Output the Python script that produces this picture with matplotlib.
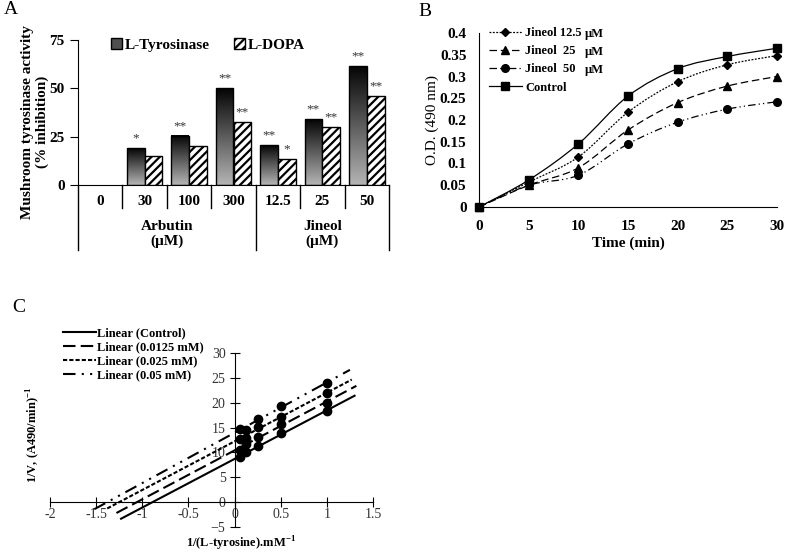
import numpy as np
import matplotlib
matplotlib.use('Agg')
import matplotlib.pyplot as plt
from matplotlib.path import Path
from matplotlib.patches import PathPatch, Patch, Rectangle
from matplotlib.lines import Line2D
from matplotlib.colors import LinearSegmentedColormap

plt.rcParams['font.family'] = ['Liberation Serif', 'DejaVu Serif']
plt.rcParams['mathtext.fontset'] = 'custom'
plt.rcParams['mathtext.rm'] = 'Liberation Serif'
plt.rcParams['mathtext.bf'] = 'Liberation Serif:bold'
plt.rcParams['hatch.linewidth'] = 1.6

W, H = 787, 552

# panel A - inhibition (%)
doses = ['0', '30', '100', '300', '12.5', '25', '50']
groups = ['Arbutin\n(\u00b5M)', 'Jineol\n(\u00b5M)']
group_size = [4, 3]
tyrosinase = [0, 19, 25.5, 50, 20.5, 34, 61.5]
dopa = [0, 15, 20, 32.5, 13.5, 30, 46]
stars_tyr = ['', '*', '**', '**', '**', '**', '**']
stars_dopa = ['', '', '', '**', '*', '**', '**']

# panel B - O.D. over time
time_min = [0, 5, 10, 15, 20, 25, 30]
od_j125 = [0, 0.057, 0.115, 0.218, 0.288, 0.327, 0.348]
od_j25 = [0, 0.050, 0.090, 0.177, 0.240, 0.278, 0.300]
od_j50 = [0, 0.050, 0.073, 0.145, 0.195, 0.225, 0.242]
od_control = [0, 0.062, 0.145, 0.255, 0.318, 0.346, 0.365]

# panel C - Lineweaver-Burk
inv_s = [0.0625, 0.125, 0.25, 0.5, 1.0]
inv_v_control = [9.0, 10.0, 11.2, 13.9, 18.3]
inv_v_0125 = [10.5, 11.7, 13.2, 15.7, 20.0]
inv_v_025 = [12.8, 13.0, 15.2, 17.2, 21.9]
inv_v_05 = [14.8, 14.6, 16.7, 19.4, 23.9]
trend_from = [-1.23, -1.28, -1.38, -1.52]
trend_to = [1.30, 1.32, 1.27, 1.25]


def fig_rect(left, top, right, bottom):
    # pixel box -> figure fraction
    return [left / W, 1 - bottom / H, (right - left) / W, (bottom - top) / H]


def smooth_path(x, y):
    pts = np.column_stack([x, y]).astype(float)
    n = len(pts)
    verts = [pts[0]]
    codes = [Path.MOVETO]
    for i in range(n - 1):
        p0 = pts[max(i - 1, 0)]
        p1 = pts[i]
        p2 = pts[i + 1]
        p3 = pts[min(i + 2, n - 1)]
        verts += [p1 + (p2 - p0) / 6, p2 - (p3 - p1) / 6, p2]
        codes += [Path.CURVE4] * 3
    return Path(verts, codes)


fig = plt.figure(figsize=(W / 100, H / 100), dpi=100)

# ---------------- A ----------------
ax = fig.add_axes(fig_rect(78, 40, 389, 185))
grey = LinearSegmentedColormap.from_list('bar', ['#050505', '#b4b4b4'])
grad = np.linspace(0, 1, 100).reshape(-1, 1)
bw = 0.4
for i in range(len(doses)):
    h = tyrosinase[i]
    if h > 0:
        ax.imshow(grad, extent=[i - bw, i, 0, h], cmap=grey, aspect='auto',
                  vmin=0, vmax=1, zorder=2)
        ax.add_patch(Rectangle((i - bw, 0), bw, h, fill=False,
                               edgecolor='black', lw=1, zorder=3))
    d = dopa[i]
    if d > 0:
        ax.add_patch(Rectangle((i, 0), bw, d, facecolor='white', hatch='////',
                               edgecolor='black', lw=1, zorder=3))
    if stars_tyr[i]:
        ax.text(i - bw / 2, h + 2, stars_tyr[i], ha='center', va='bottom',
                fontsize=9.5, color='#333333')
    if stars_dopa[i]:
        ax.text(i + bw / 2, d + 2, stars_dopa[i], ha='center', va='bottom',
                fontsize=9.5, color='#333333')

ax.set_xlim(-0.5, len(doses) - 0.5)
ax.set_ylim(0, 75)
ax.set_yticks([0, 25, 50, 75])
ax.set_xticks([])
ax.tick_params(axis='y', direction='out', length=6, labelsize=11)
for lab in ax.get_yticklabels():
    lab.set_fontweight('bold')
ax.spines['top'].set_visible(False)
ax.spines['right'].set_visible(False)

tr = ax.get_xaxis_transform()
edges = [-0.5]
for g in group_size:
    edges.append(edges[-1] + g)
for k in range(len(doses) + 1):
    xb = k - 0.5
    y_end = -0.448 if xb in edges else -0.159
    ax.add_line(Line2D([xb, xb], [0, y_end], transform=tr, color='black',
                       lw=1, clip_on=False))
for i, lab in enumerate(doses):
    ax.text(i, -0.117, lab, transform=tr, ha='center', va='center',
            fontsize=11, fontweight='bold')
for g, lab in enumerate(groups):
    ax.text((edges[g] + edges[g + 1]) / 2, -0.338, lab, transform=tr,
            ha='center', va='center', fontsize=11, fontweight='bold',
            linespacing=1.15)

fig.text(35 / W, 1 - 122 / H, 'Mushroom tyrosinase activity\n(% inhibition)',
         rotation=90, ha='center', va='center', fontsize=11,
         fontweight='bold', multialignment='center')
fig.legend(handles=[Patch(facecolor='#505050', edgecolor='black'),
                    Patch(facecolor='white', edgecolor='black', hatch='////')],
           labels=['L-Tyrosinase', 'L-DOPA'], ncol=2, frameon=False,
           loc='center left', bbox_to_anchor=(111 / W, 1 - 45 / H),
           borderaxespad=0, borderpad=0, handlelength=0.7, handleheight=0.7,
           handletextpad=0.2, columnspacing=1.6,
           prop={'size': 11, 'weight': 'bold'})
fig.text(4 / W, 1 - 9 / H, 'A', fontsize=14, va='center')

# ---------------- B ----------------
bx = fig.add_axes(fig_rect(479, 33, 777, 207))
series_b = [
    (od_j125, (0, (1.5, 1.2)), 'D', 4.5),
    (od_j25, (0, (6, 3)), '^', 5.5),
    (od_j50, (0, (6, 2.5, 1, 2.5, 1, 2.5)), 'o', 5.5),
    (od_control, '-', 's', 5.5),
]
handles_b = []
for yv, ls, mk, ms in series_b:
    bx.add_patch(PathPatch(smooth_path(time_min, yv), fill=False,
                           edgecolor='black', lw=0.9, linestyle=ls))
    bx.plot(time_min, yv, linestyle='none', marker=mk, markersize=ms,
            color='black', clip_on=False, zorder=4)
    handles_b.append(Line2D([], [], color='black', lw=0.9, linestyle=ls,
                            marker=mk, markersize=ms))
bx.set_xlim(0, 30)
bx.set_ylim(0, 0.4)
bx.set_xticks(time_min)
bx.set_yticks([0, 0.05, 0.1, 0.15, 0.2, 0.25, 0.3, 0.35, 0.4])
bx.set_yticklabels(['0', '0.05', '0.1', '0.15', '0.2', '0.25', '0.3',
                    '0.35', '0.4'])
bx.tick_params(length=0, labelsize=11, pad=9)
for lab in bx.get_xticklabels() + bx.get_yticklabels():
    lab.set_fontweight('bold')
bx.spines['top'].set_visible(False)
bx.spines['right'].set_visible(False)
bx.set_xlabel('Time (min)', fontsize=11, fontweight='bold', labelpad=3)
fig.text(432 / W, 1 - 120 / H, 'O.D. (490 nm)', rotation=90, ha='center',
         va='center', fontsize=11)
fig.legend(handles=handles_b,
           labels=['Jineol 12.5', 'Jineol  25', 'Jineol  50', 'Control'],
           frameon=False, loc='upper left',
           bbox_to_anchor=(489 / W, 1 - 27 / H), borderaxespad=0,
           borderpad=0, handlelength=2.6, handletextpad=0.3,
           labelspacing=0.5, prop={'size': 9, 'weight': 'bold'})
for yy in [34, 52, 70]:
    fig.text(585 / W, 1 - yy / H, '\u00b5M', fontsize=9, fontweight='bold',
             va='center')
fig.text(418 / W, 1 - 12 / H, 'B', fontsize=14, va='center')

# ---------------- C ----------------
cx = fig.add_axes(fig_rect(50, 353, 373, 527))
series_c = [inv_v_control, inv_v_0125, inv_v_025, inv_v_05]
styles_c = ['-', (0, (6, 2.5)), (0, (2, 1)), (0, (6, 3, 1, 3, 1, 3))]
labels_c = ['Linear (Control)', 'Linear (0.0125 mM)', 'Linear (0.025 mM)',
            'Linear (0.05 mM)']
handles_c = []
for k, yv in enumerate(series_c):
    slope, icpt = np.polyfit(inv_s, yv, 1)
    xs = np.array([trend_from[k], trend_to[k]])
    cx.plot(xs, slope * xs + icpt, color='black', lw=1.5,
            linestyle=styles_c[k], clip_on=False)
    cx.plot(inv_s, yv, 'o', color='black', markersize=6)
    handles_c.append(Line2D([], [], color='black', lw=1.5,
                            linestyle=styles_c[k]))
cx.set_xlim(-2, 1.5)
cx.set_ylim(-5, 30)
cx.set_xticks([-2, -1.5, -1, -0.5, 0, 0.5, 1, 1.5])
cx.set_xticklabels(['-2', '-1.5', '-1', '-0.5', '0', '0.5', '1', '1.5'])
cx.set_yticks([-5, 0, 5, 10, 15, 20, 25, 30])
cx.spines['left'].set_position(('data', 0))
cx.spines['bottom'].set_position(('data', 0))
cx.spines['top'].set_visible(False)
cx.spines['right'].set_visible(False)
cx.tick_params(direction='inout', length=7, labelsize=10,
               labelcolor='#333333')
cx.tick_params(axis='y', pad=3)
cx.tick_params(axis='x', pad=1)
fig.legend(handles=handles_c, labels=labels_c, frameon=False,
           loc='upper left', bbox_to_anchor=(63 / W, 1 - 327 / H),
           borderaxespad=0, borderpad=0, handlelength=2.6,
           handletextpad=0.15, labelspacing=0.18,
           prop={'size': 9, 'weight': 'bold'})
fig.text(33 / W, 1 - 435 / H, r'1/V, (A490/min)$^{\mathbf{-1}}$',
         rotation=90, ha='center', va='center', fontsize=9,
         fontweight='bold')
fig.text(241 / W, 1 - 535 / H, r'1/(L-tyrosine).mM$^{\mathbf{-1}}$',
         ha='center', va='top', fontsize=9, fontweight='bold')
fig.text(12 / W, 1 - 307 / H, 'C', fontsize=14, va='center')

fig.savefig('out.png', dpi=100)
